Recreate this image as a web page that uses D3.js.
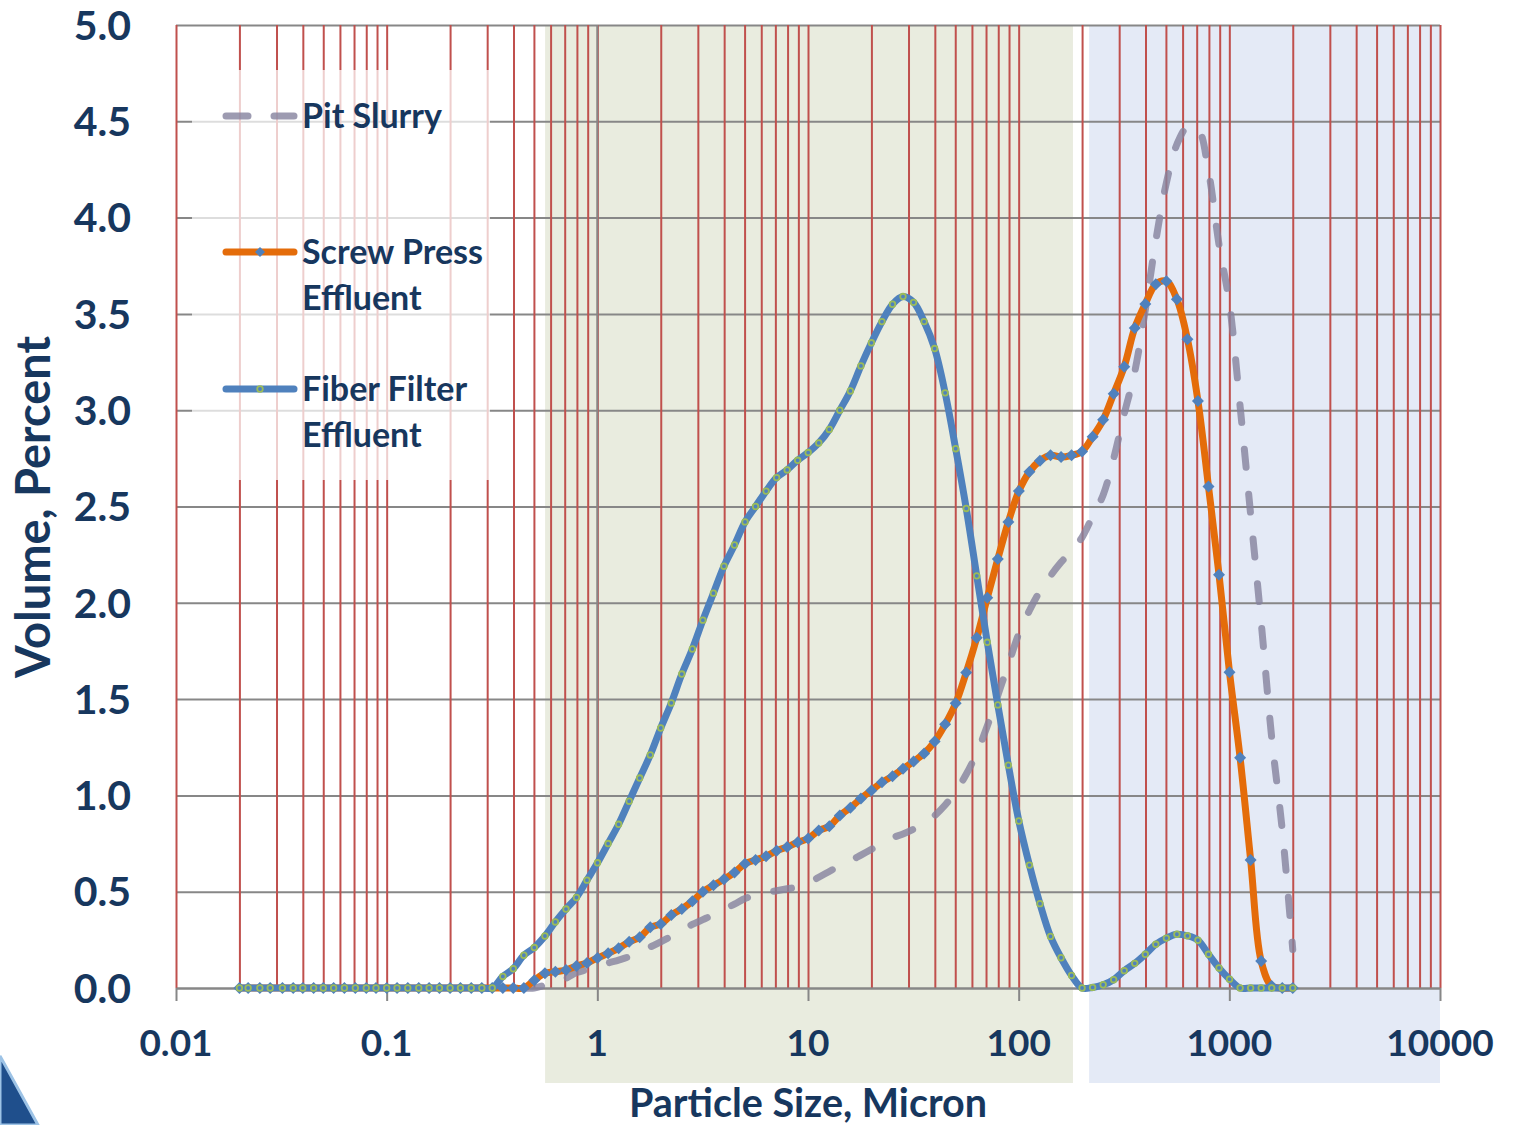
<!DOCTYPE html>
<html>
<head>
<meta charset="utf-8">
<script src="https://cdnjs.cloudflare.com/ajax/libs/d3/7.8.5/d3.min.js"></script>
<style>
  html, body { margin: 0; padding: 0; background: #fff; }
  svg { display: block; font-family: Lato, "Open Sans", sans-serif; font-weight: bold; }
</style>
</head>
<body>
<script>
// particle size bins (micron), 20 per decade from 0.02 to 2000
var sizes = [
  0.020, 0.022, 0.025, 0.028, 0.032, 0.036, 0.040, 0.045, 0.050, 0.056,
  0.063, 0.071, 0.080, 0.089, 0.100, 0.112, 0.126, 0.142, 0.159, 0.178,
  0.200, 0.224, 0.252, 0.283, 0.317, 0.356, 0.399, 0.448, 0.502, 0.564,
  0.632, 0.710, 0.796, 0.893, 1.002, 1.125, 1.262, 1.416, 1.589, 1.783,
  2.000, 2.244, 2.518, 2.825, 3.170, 3.557, 3.991, 4.477, 5.024, 5.637,
  6.325, 7.096, 7.962, 8.934, 10.02, 11.25, 12.62, 14.16, 15.89, 17.83,
  20.00, 22.44, 25.18, 28.25, 31.70, 35.57, 39.91, 44.77, 50.24, 56.37,
  63.25, 70.96, 79.62, 89.34, 100.2, 112.5, 126.2, 141.6, 158.9, 178.3,
  200.0, 224.4, 251.8, 282.5, 317.0, 355.7, 399.1, 447.7, 502.4, 563.7,
  632.5, 709.6, 796.2, 893.4, 1002, 1125, 1262, 1416, 1589, 1783,
  2000
];

// volume percent per bin (null = not plotted)
var pitSlurry = [
  null, null, null, null, null, null, null, null, null, null,
  null, null, null, null, null, null, null, null, null, null,
  null, null, null, null, null, null, null, 0, 0, 0.015,
  0.03, 0.05, 0.08, 0.095, 0.113, 0.13, 0.145, 0.163, 0.19, 0.213,
  0.24, 0.268, 0.30, 0.33, 0.355, 0.38, 0.41, 0.435, 0.465, 0.48,
  0.495, 0.505, 0.515, 0.525, 0.545, 0.575, 0.605, 0.635, 0.66, 0.69,
  0.72, 0.75, 0.78, 0.80, 0.825, 0.855, 0.895, 0.95, 1.02, 1.11,
  1.22, 1.36, 1.52, 1.68, 1.84, 1.96, 2.06, 2.14, 2.21, 2.27,
  2.34, 2.45, 2.56, 2.75, 2.98, 3.20, 3.52, 3.88, 4.18, 4.38,
  4.47, 4.46, 4.24, 3.86, 3.55, 3.02, 2.46, 1.90, 1.30, 0.82,
  0.20
];

var screwPress = [
  0, 0, 0, 0, 0, 0, 0, 0, 0, 0,
  0, 0, 0, 0, 0, 0, 0, 0, 0, 0,
  0, 0, 0, 0, 0, 0, 0, 0, 0.04, 0.076,
  0.085, 0.093, 0.114, 0.13, 0.156, 0.18, 0.206, 0.24, 0.263, 0.315,
  0.332, 0.379, 0.41, 0.45, 0.50, 0.533, 0.564, 0.60, 0.645, 0.665,
  0.684, 0.713, 0.732, 0.757, 0.776, 0.818, 0.84, 0.895, 0.936, 0.984,
  1.026, 1.068, 1.10, 1.138, 1.176, 1.218, 1.28, 1.369, 1.478, 1.638,
  1.818, 2.026, 2.228, 2.42, 2.58, 2.68, 2.738, 2.766, 2.757, 2.766,
  2.786, 2.862, 2.95, 3.086, 3.226, 3.427, 3.552, 3.654, 3.669, 3.576,
  3.369, 3.048, 2.604, 2.146, 1.639, 1.195, 0.665, 0.14, 0.01, 0,
  0
];

var fiberFilter = [
  0, 0, 0, 0, 0, 0, 0, 0, 0, 0,
  0, 0, 0, 0, 0, 0, 0, 0, 0, 0,
  0, 0, 0, 0, 0, 0.06, 0.10, 0.17, 0.21, 0.27,
  0.343, 0.41, 0.47, 0.56, 0.65, 0.75, 0.85, 0.97, 1.09, 1.21,
  1.35, 1.48, 1.63, 1.76, 1.91, 2.05, 2.19, 2.30, 2.42, 2.50,
  2.58, 2.65, 2.69, 2.74, 2.78, 2.83, 2.90, 3.00, 3.10, 3.23,
  3.35, 3.46, 3.55, 3.59, 3.56, 3.46, 3.32, 3.09, 2.80, 2.49,
  2.14, 1.795, 1.47, 1.157, 0.867, 0.638, 0.438, 0.268, 0.157, 0.065,
  0, 0.003, 0.017, 0.043, 0.09, 0.128, 0.175, 0.227, 0.259, 0.279,
  0.271, 0.248, 0.175, 0.104, 0.046, 0, 0, 0, 0, 0,
  0
];

var yTicks = [0, 0.5, 1, 1.5, 2, 2.5, 3, 3.5, 4, 4.5, 5];
var xLabels = [0.01, 0.1, 1, 10, 100, 1000, 10000];
var legendText = [["Pit Slurry"], ["Screw Press", "Effluent"], ["Fiber Filter", "Effluent"]];

var W = 1514, H = 1125;
var navy = "#17375e";

var svg = d3.select("body").append("svg")
  .attr("width", W)
  .attr("height", H);

var x = d3.scaleLog().domain([0.01, 10000]).range([176, 1440]);
var y = d3.scaleLinear().domain([0, 5]).range([988, 25]);

// coloured bands behind the chart
svg.append("rect")
  .attr("x", x(0.565)).attr("y", 25)
  .attr("width", x(181) - x(0.565)).attr("height", 1083 - 25)
  .attr("fill", "#e9ecdf");
svg.append("rect")
  .attr("x", x(216)).attr("y", 25)
  .attr("width", x(10000) - x(216)).attr("height", 1083 - 25)
  .attr("fill", "#e4eaf6");

// horizontal grid
svg.append("g")
  .attr("transform", "translate(176,0)")
  .call(d3.axisLeft(y).tickValues(yTicks).tickSize(-1264).tickFormat(""))
  .call(function(g) { g.select(".domain").remove(); })
  .selectAll("line")
  .attr("stroke", "#878787")
  .attr("stroke-width", 2);

// vertical log grid
svg.append("g")
  .attr("transform", "translate(0,988)")
  .call(d3.axisBottom(x).tickSize(-963).tickFormat(""))
  .call(function(g) { g.select(".domain").remove(); })
  .selectAll("line")
  .attr("stroke", "#c0504d")
  .attr("stroke-width", 2);

// value axis crosses at 1 micron
svg.append("line")
  .attr("x1", x(1)).attr("x2", x(1))
  .attr("y1", y(5)).attr("y2", y(0))
  .attr("stroke", "#878787").attr("stroke-width", 2);

// x axis
svg.append("g")
  .attr("transform", "translate(0,988)")
  .call(d3.axisBottom(x).tickValues(xLabels).tickSize(13).tickSizeOuter(0).tickFormat(""))
  .call(function(g) {
    g.select(".domain").attr("stroke", "#878787").attr("stroke-width", 2);
    g.selectAll("line").attr("stroke", "#878787").attr("stroke-width", 2);
  });

// legend background
svg.append("rect")
  .attr("x", 192).attr("y", 70)
  .attr("width", 298).attr("height", 410)
  .attr("fill", "#fff").attr("opacity", 0.72);

var line = d3.line()
  .defined(function(d) { return d !== null; })
  .x(function(d, i) { return x(sizes[i]); })
  .y(function(d) { return y(d); })
  .curve(d3.curveCatmullRom.alpha(0.5));

var diamond = "M0,-6L6,0L0,6L-6,0Z";

svg.append("path")
  .attr("d", line(pitSlurry))
  .attr("fill", "none")
  .attr("stroke", "#85829e")
  .attr("stroke-opacity", 0.8)
  .attr("stroke-width", 7)
  .attr("stroke-linecap", "round")
  .attr("stroke-dasharray", "18 27");

svg.append("path")
  .attr("d", line(screwPress))
  .attr("fill", "none")
  .attr("stroke", "#e46c0a")
  .attr("stroke-width", 7)
  .attr("stroke-linejoin", "round");

svg.append("g").selectAll("path")
  .data(screwPress)
  .enter().append("path")
  .attr("transform", function(d, i) { return "translate(" + x(sizes[i]) + "," + y(d) + ")"; })
  .attr("d", diamond)
  .attr("fill", "#4f81bd");

svg.append("path")
  .attr("d", line(fiberFilter))
  .attr("fill", "none")
  .attr("stroke", "#4f81bd")
  .attr("stroke-width", 7)
  .attr("stroke-linejoin", "round");

svg.append("g").selectAll("circle")
  .data(fiberFilter)
  .enter().append("circle")
  .attr("cx", function(d, i) { return x(sizes[i]); })
  .attr("cy", function(d) { return y(d); })
  .attr("r", 2.8)
  .attr("fill", "none")
  .attr("stroke", "#9bbb59")
  .attr("stroke-width", 1.8);

// legend
var legendY = [116, 252, 389];
var lg = svg.append("g");
lg.append("line")
  .attr("x1", 226).attr("x2", 294).attr("y1", legendY[0]).attr("y2", legendY[0])
  .attr("stroke", "#85829e").attr("stroke-opacity", 0.8).attr("stroke-width", 7)
  .attr("stroke-linecap", "round").attr("stroke-dasharray", "22 26");
lg.append("line")
  .attr("x1", 226).attr("x2", 294).attr("y1", legendY[1]).attr("y2", legendY[1])
  .attr("stroke", "#e46c0a").attr("stroke-width", 7).attr("stroke-linecap", "round");
lg.append("path")
  .attr("transform", "translate(260," + legendY[1] + ")")
  .attr("d", "M0,-5L5,0L0,5L-5,0Z").attr("fill", "#4f81bd");
lg.append("line")
  .attr("x1", 226).attr("x2", 294).attr("y1", legendY[2]).attr("y2", legendY[2])
  .attr("stroke", "#4f81bd").attr("stroke-width", 7).attr("stroke-linecap", "round");
lg.append("circle")
  .attr("cx", 260).attr("cy", legendY[2]).attr("r", 2.8)
  .attr("fill", "none").attr("stroke", "#9bbb59").attr("stroke-width", 1.8);

legendText.forEach(function(rows, k) {
  rows.forEach(function(t, j) {
    lg.append("text")
      .attr("x", 302)
      .attr("y", legendY[k] + j * 46)
      .attr("dy", "0.36em")
      .attr("fill", navy)
      .style("font-size", "34px")
      .text(t);
  });
});

// tick labels
svg.append("g").selectAll("text")
  .data(yTicks)
  .enter().append("text")
  .attr("x", 131)
  .attr("y", function(d) { return y(d); })
  .attr("dy", "0.36em")
  .attr("text-anchor", "end")
  .attr("fill", navy)
  .style("font-size", "41px")
  .text(function(d) { return d3.format(".1f")(d); });

svg.append("g").selectAll("text")
  .data(xLabels)
  .enter().append("text")
  .attr("x", function(d) { return x(d); })
  .attr("y", 1043)
  .attr("dy", "0.36em")
  .attr("text-anchor", "middle")
  .attr("fill", navy)
  .style("font-size", "37px")
  .text(function(d) { return String(d); });

// axis titles
svg.append("text")
  .attr("transform", "translate(33,507) rotate(-90)")
  .attr("dy", "0.36em")
  .attr("text-anchor", "middle")
  .attr("fill", navy)
  .style("font-size", "47px")
  .text("Volume, Percent");

svg.append("text")
  .attr("x", 808).attr("y", 1103)
  .attr("dy", "0.36em")
  .attr("text-anchor", "middle")
  .attr("fill", navy)
  .style("font-size", "39.5px")
  .text("Particle Size, Micron");

// corner of the slide logo
svg.append("path")
  .attr("d", "M0,1056L38,1125L0,1125Z")
  .attr("fill", "#1f4f8c")
  .attr("stroke", "#9dc3e6")
  .attr("stroke-width", 3);
</script>
</body>
</html>
